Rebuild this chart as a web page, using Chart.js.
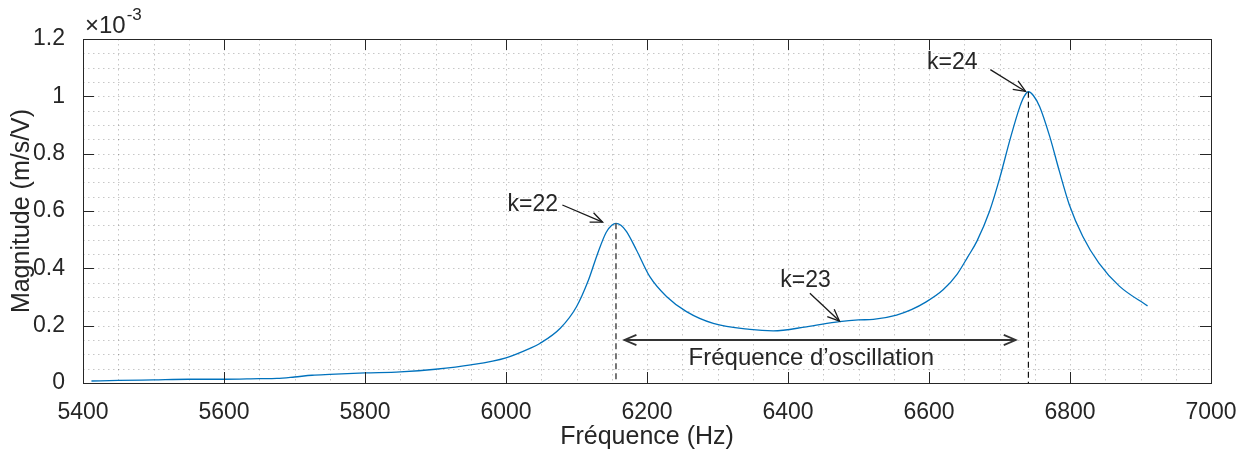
<!DOCTYPE html>
<html>
<head>
<meta charset="utf-8">
<script src="https://cdn.jsdelivr.net/npm/chart.js@4"></script>
<style>
html,body{margin:0;padding:0;background:#fff;}
canvas{display:block;}
</style>
</head>
<body>
<canvas id="bode" width="1236" height="452"></canvas>
<script>
// frequency response, magnitude in units of 1e-3 m/s/V
const freqHz = [5412, 5450, 5500, 5550, 5600, 5650, 5675, 5700, 5725, 5750, 5800, 5850, 5900, 5950, 6000,
  6034, 6048, 6077, 6100, 6117, 6129, 6142, 6150, 6156, 6163, 6171, 6185, 6204, 6228, 6256, 6294, 6346,
  6379, 6426, 6473, 6500, 6521, 6554, 6575, 6596, 6620, 6640, 6655, 6668, 6686, 6700, 6715, 6729, 6735,
  6741, 6748, 6757, 6771, 6785, 6799, 6818, 6841, 6870, 6910];
const magnitudeE3 = [0.007, 0.009, 0.011, 0.013, 0.013, 0.015, 0.016, 0.021, 0.027, 0.030, 0.035, 0.039, 0.048, 0.063, 0.088,
  0.121, 0.138, 0.191, 0.266, 0.359, 0.445, 0.525, 0.550, 0.557, 0.550, 0.528, 0.464, 0.371, 0.301, 0.249, 0.208, 0.187,
  0.182, 0.196, 0.214, 0.220, 0.222, 0.237, 0.256, 0.283, 0.325, 0.380, 0.440, 0.495, 0.600, 0.712, 0.850, 0.965, 1.000,
  1.016, 1.003, 0.964, 0.862, 0.738, 0.622, 0.512, 0.418, 0.338, 0.269];

const xTicks = [5400, 5600, 5800, 6000, 6200, 6400, 6600, 6800, 7000];
const yTicks = [0, 0.2, 0.4, 0.6, 0.8, 1, 1.2];

// resonance peaks marked by dashed lines
const peakFreq = [6156, 6741];
const peakMag = [0.557, 1.016];

const txt = '#262626';
const font = '"Liberation Sans", Arial, Helvetica, sans-serif';

const notes = [
  {label: 'k=22', tx: 6038, ty: 0.621, from: [6080, 0.621], to: [6137, 0.561]},
  {label: 'k=23', tx: 6425, ty: 0.357, from: [6431, 0.313], to: [6473, 0.216]},
  {label: 'k=24', tx: 6633, ty: 1.117, from: [6687, 1.093], to: [6737, 1.017]}
];

function head(ctx, x1, y1, x2, y2, len){
  let a = Math.atan2(y2 - y1, x2 - x1);
  ctx.beginPath();
  ctx.moveTo(x2 - len*Math.cos(a - 0.4), y2 - len*Math.sin(a - 0.4));
  ctx.lineTo(x2, y2);
  ctx.lineTo(x2 - len*Math.cos(a + 0.4), y2 - len*Math.sin(a + 0.4));
  ctx.stroke();
}

const frame = {
  id: 'frame',
  beforeDatasetsDraw(chart){
    const {ctx, chartArea: a, scales: {x, y}} = chart;
    ctx.save();
    ctx.strokeStyle = 'rgba(0,0,0,0.22)';
    ctx.lineWidth = 1;
    ctx.setLineDash([1.5, 3.5]);
    for (let f = 5450; f < 7000; f += 50){
      let px = Math.round(x.getPixelForValue(f)) + 0.5;
      ctx.beginPath(); ctx.moveTo(px, a.top); ctx.lineTo(px, a.bottom); ctx.stroke();
    }
    for (let v = 0.05; v < 1.19; v += 0.05){
      let py = Math.round(y.getPixelForValue(v)) + 0.5;
      ctx.beginPath(); ctx.moveTo(a.left, py); ctx.lineTo(a.right, py); ctx.stroke();
    }
    ctx.restore();
  },
  afterDatasetsDraw(chart){
    const {ctx, chartArea: a, scales: {x, y}} = chart;
    ctx.save();

    // dashed lines at the peaks
    ctx.setLineDash([6, 4]);
    peakFreq.forEach((f, i) => {
      ctx.strokeStyle = i == 0 ? '#555' : '#111';
      ctx.lineWidth = i == 0 ? 1.6 : 1.2;
      let px = x.getPixelForValue(f);
      ctx.beginPath(); ctx.moveTo(px, y.getPixelForValue(peakMag[i])); ctx.lineTo(px, a.bottom); ctx.stroke();
    });
    ctx.setLineDash([]);

    // box + inward ticks
    ctx.strokeStyle = txt;
    ctx.lineWidth = 1;
    ctx.strokeRect(Math.round(a.left) + 0.5, Math.round(a.top) + 0.5, Math.round(a.right - a.left), Math.round(a.bottom - a.top));
    ctx.beginPath();
    xTicks.forEach(t => {
      let px = Math.round(x.getPixelForValue(t)) + 0.5;
      ctx.moveTo(px, a.bottom); ctx.lineTo(px, a.bottom - 11);
      ctx.moveTo(px, a.top); ctx.lineTo(px, a.top + 11);
    });
    yTicks.forEach(t => {
      let py = Math.round(y.getPixelForValue(t)) + 0.5;
      ctx.moveTo(a.left, py); ctx.lineTo(a.left + 11, py);
      ctx.moveTo(a.right, py); ctx.lineTo(a.right - 11, py);
    });
    ctx.stroke();

    // exponent
    ctx.fillStyle = txt;
    ctx.textBaseline = 'alphabetic';
    ctx.textAlign = 'left';
    ctx.font = '24px ' + font;
    ctx.fillText('\u00d710', a.left + 2, a.top - 6);
    let w = ctx.measureText('\u00d710').width;
    ctx.font = '17px ' + font;
    ctx.fillText('-3', a.left + 3 + w, a.top - 19);

    // k labels with arrows
    ctx.font = '23px ' + font;
    ctx.textAlign = 'center';
    ctx.textBaseline = 'middle';
    ctx.lineWidth = 1.3;
    ctx.strokeStyle = '#1a1a1a';
    notes.forEach(n => {
      ctx.fillText(n.label, x.getPixelForValue(n.tx), y.getPixelForValue(n.ty));
      let x1 = x.getPixelForValue(n.from[0]), y1 = y.getPixelForValue(n.from[1]);
      let x2 = x.getPixelForValue(n.to[0]), y2 = y.getPixelForValue(n.to[1]);
      ctx.beginPath(); ctx.moveTo(x1, y1); ctx.lineTo(x2, y2); ctx.stroke();
      head(ctx, x1, y1, x2, y2, 13);
    });

    // oscillation frequency span
    ctx.strokeStyle = '#333';
    ctx.lineWidth = 1.8;
    let xa = x.getPixelForValue(6168), xb = x.getPixelForValue(6723), ya = y.getPixelForValue(0.150);
    ctx.beginPath(); ctx.moveTo(xa, ya); ctx.lineTo(xb, ya); ctx.stroke();
    head(ctx, xb, ya, xa, ya, 13);
    head(ctx, xa, ya, xb, ya, 13);
    ctx.font = '24px ' + font;
    ctx.fillText('Fr\u00e9quence d\u2019oscillation', x.getPixelForValue(6433), y.getPixelForValue(0.087));

    ctx.restore();
  }
};

new Chart(document.getElementById('bode'), {
  type: 'line',
  data: {
    datasets: [{
      data: freqHz.map((f, i) => ({x: f, y: magnitudeE3[i]})),
      borderColor: '#0072BD',
      borderWidth: 1.3,
      pointRadius: 0,
      cubicInterpolationMode: 'monotone',
      fill: false
    }]
  },
  options: {
    responsive: false,
    animation: false,
    layout: {padding: {top: 39, right: 25, left: 0, bottom: 0}},
    plugins: {legend: {display: false}, tooltip: {enabled: false}},
    scales: {
      x: {
        type: 'linear', min: 5400, max: 7000,
        afterBuildTicks: s => { s.ticks = xTicks.map(v => ({value: v})); },
        ticks: {color: txt, font: {family: font, size: 23}, padding: 8, maxRotation: 0, autoSkip: false, callback: v => String(v)},
        grid: {display: false},
        border: {display: false},
        title: {display: true, text: 'Fr\u00e9quence (Hz)', color: txt, font: {family: font, size: 25}, padding: {top: 0, bottom: 0}},
        afterFit: s => { s.height = 69; s.paddingLeft = 0; s.paddingRight = 0; }
      },
      y: {
        min: 0, max: 1.2,
        afterBuildTicks: s => { s.ticks = yTicks.map(v => ({value: v})); },
        ticks: {color: txt, font: {family: font, size: 23}, padding: 10, callback: v => String(+v.toFixed(1))},
        grid: {display: false},
        border: {display: false},
        title: {display: true, text: 'Magnitude (m/s/V)', color: txt, font: {family: font, size: 25}, padding: {top: 7, bottom: 0}},
        afterFit: s => { s.width = 83; s.paddingTop = 0; s.paddingBottom = 0; }
      }
    }
  },
  plugins: [frame]
});
</script>
</body>
</html>
